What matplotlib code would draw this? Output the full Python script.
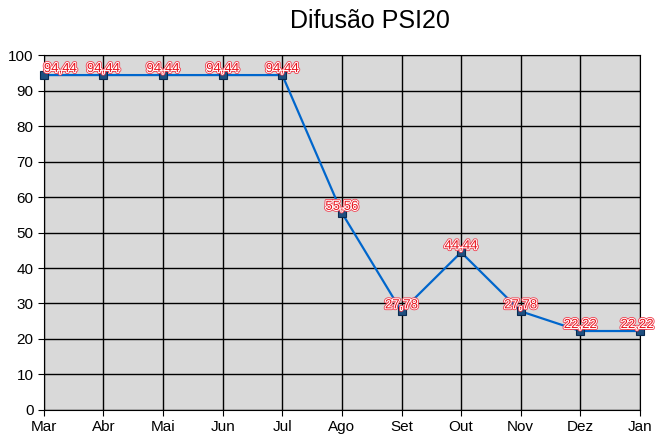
import matplotlib.pyplot as plt
import matplotlib.patheffects as pe

# Data
months = ['Mar', 'Abr', 'Mai', 'Jun', 'Jul', 'Ago', 'Set', 'Out', 'Nov', 'Dez', 'Jan']
values = [94.44, 94.44, 94.44, 94.44, 94.44, 55.56, 27.78, 44.44, 27.78, 22.22, 22.22]

plt.rcParams['font.family'] = ['Liberation Sans', 'DejaVu Sans']

fig = plt.figure(figsize=(6.55, 4.43), dpi=100)
ax = fig.add_axes([0.067, 0.075, 0.910, 0.800])
ax.set_facecolor('#d9d9d9')

index = list(range(len(months)))
ax.plot(index, values, color='#0066cc', linewidth=1.6, marker='s', markersize=5.5,
        markerfacecolor='#1f4f7f', markeredgecolor='#0a2a50', markeredgewidth=0.8,
        zorder=3, clip_on=False)

# red labels with a white halo (and thin red rim) like the original
halo = [pe.Stroke(linewidth=2.6, foreground='#f04050'),
        pe.Stroke(linewidth=1.4, foreground='white'),
        pe.Normal()]
for i, v in zip(index, values):
    label = f'{v:.2f}'.replace('.', ',')
    ha = 'left' if i == 0 else 'center'
    dx = -2 if i == len(values) - 1 else 0
    ax.annotate(label, (i, v), xytext=(dx, 0), textcoords='offset points',
                ha=ha, va='bottom', fontsize=9.5, color='#e8141e', zorder=4,
                path_effects=halo)

ax.set_xlim(0, len(months) - 1)
ax.set_ylim(0, 100)
ax.set_xticks(index)
ax.set_xticklabels(months)
ax.set_yticks(range(0, 101, 10))
ax.tick_params(direction='out', length=4, labelsize=11, color='black')
ax.grid(True, color='black', linewidth=1)
ax.set_axisbelow(True)
for s in ax.spines.values():
    s.set_color('black')

fig.suptitle('Difusão PSI20', x=0.565, y=0.98, fontsize=18)
fig.savefig('out.png')
